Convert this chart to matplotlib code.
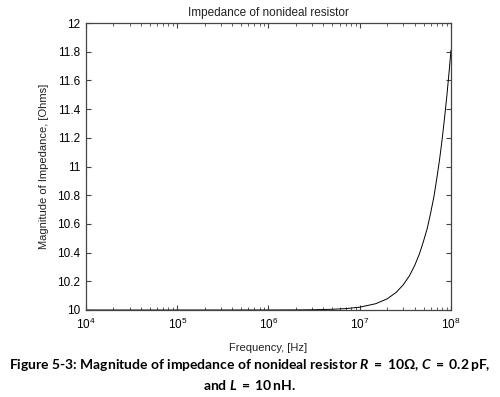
import matplotlib
matplotlib.use("Agg")
import matplotlib.pyplot as plt
import numpy as np

freq_hz = [1e4, 1e5, 1e6, 2e6, 3e6, 5e6, 7e6, 1e7, 1.5e7, 2e7, 2.5e7, 3e7, 3.5e7,
           4e7, 4.5e7, 5e7, 5.5e7, 6e7, 6.5e7, 7e7, 7.5e7, 8e7, 8.5e7, 9e7, 9.5e7, 1e8]
impedance_ohm = [10.0, 10.0, 10.0002, 10.0008, 10.0018, 10.0049, 10.0097, 10.0197,
                 10.044, 10.078, 10.122, 10.176, 10.238, 10.31, 10.39, 10.48,
                 10.57, 10.68, 10.79, 10.92, 11.05, 11.19, 11.34, 11.49, 11.65, 11.81]
y_ticks = [10, 10.2, 10.4, 10.6, 10.8, 11, 11.2, 11.4, 11.6, 11.8, 12]
y_labels = ["10", "10.2", "10.4", "10.6", "10.8", "11", "11.2", "11.4", "11.6", "11.8", "12"]

plt.rcParams['font.family'] = ['Liberation Sans', 'DejaVu Sans']
plt.rcParams['mathtext.fontset'] = 'custom'
plt.rcParams['mathtext.rm'] = 'Liberation Sans'
plt.rcParams['mathtext.it'] = 'Liberation Sans:italic'
plt.rcParams['mathtext.bf'] = 'Lato:bold'
plt.rcParams['mathtext.bfit'] = 'Lato:bold:italic'

fig = plt.figure(figsize=(5.0, 3.97), dpi=100)
ax = fig.add_axes([86/500, 1 - 310/397, (451-86)/500, (310-23)/397])
ax.plot(freq_hz, impedance_ohm, color='black', linewidth=0.7)
ax.set_xscale('log')
ax.set_xlim(1e4, 1e8)
ax.set_ylim(10, 12)
ax.set_yticks(y_ticks)
ax.set_yticklabels(y_labels)
ax.tick_params(direction='in', which='both', top=True, right=True, labelsize=8.5, pad=4, color='#444444')
ax.tick_params(axis='x', pad=5)
ax.tick_params(which='major', length=3.5)
ax.tick_params(which='minor', length=2)
for s in ax.spines.values():
    s.set_color('#444444')
    s.set_linewidth(0.9)
ax.set_title("Impedance of nonideal resistor", fontsize=8.5, pad=5, color='#222222')
ax.set_xlabel("Frequency, [Hz]", fontsize=8, labelpad=8, color='#222222')
ax.set_ylabel("Magnitude of Impedance, [Ohms]", fontsize=8, labelpad=6, color='#222222')

cap_font = ['Lato', 'DejaVu Sans']
fig.text(0.5, 1 - 365/397,
         r"Figure 5-3: Magnitude of impedance of nonideal resistor "
         r"$\mathbfit{R}\;\mathbf{=}\;\mathbf{10\Omega}$, $\mathbfit{C}\;\mathbf{=}\;\mathbf{0.2\,pF}$,",
         ha='center', va='center', fontsize=10, fontweight='bold', family=cap_font)
fig.text(0.5, 1 - 385/397, r"and $\mathbfit{L}\;\mathbf{=}\;\mathbf{10\,nH}$.",
         ha='center', va='center', fontsize=10, fontweight='bold', family=cap_font)

fig.savefig("out.png", dpi=100)
